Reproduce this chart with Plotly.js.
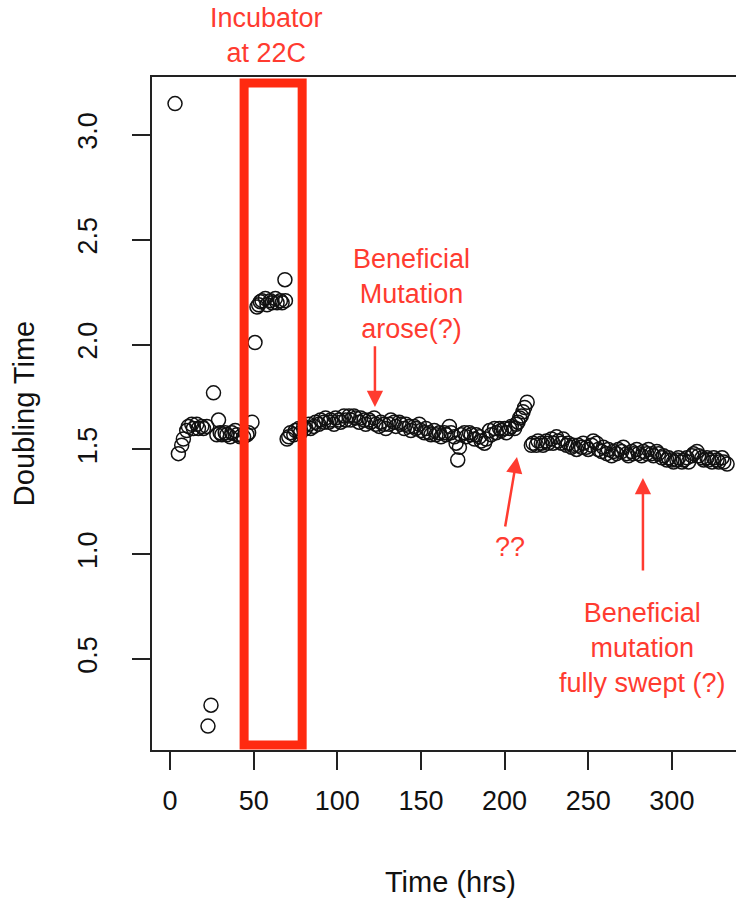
<!DOCTYPE html>
<html>
<head>
<meta charset="utf-8">
<script src="https://cdn.plot.ly/plotly-3.0.1.min.js"></script>
<style>
  html, body { margin: 0; padding: 0; overflow: hidden; background: #fff; }
  #chart { width: 760px; height: 898px; }
</style>
</head>
<body>
<div id="chart"></div>
<script>
// ---- Data ----
// Early phase (before / around the first disturbance)
const timeEarly = [3, 5, 7, 8, 10, 11, 13, 14, 16, 17, 19, 20, 22, 22.7, 24.5, 26, 28, 29, 30, 31, 33, 34, 36, 37, 39, 40, 42, 44, 46, 47, 49];
const doublingEarly = [3.15, 1.48, 1.52, 1.55, 1.59, 1.61, 1.62, 1.60, 1.62, 1.60, 1.61, 1.60, 1.61, 0.18, 0.28, 1.77, 1.57, 1.64, 1.58, 1.57, 1.58, 1.57, 1.56, 1.58, 1.59, 1.57, 1.56, 1.56, 1.57, 1.58, 1.63];

// Incubator at 22C
const timeCold = [50.8, 52, 53, 54, 55, 57, 58, 60, 61, 63, 64, 66, 67, 68.7, 69];
const doublingCold = [2.01, 2.18, 2.19, 2.205, 2.21, 2.22, 2.19, 2.21, 2.20, 2.22, 2.20, 2.21, 2.20, 2.31, 2.21];

// Recovery until the jump near 214 h
const timeMid = [70, 71, 72, 74, 75, 77, 78, 80, 81, 83, 84, 86, 87, 89, 90, 92, 93, 95, 96, 98, 99, 101, 102, 104, 105, 107, 108, 110, 111, 113, 114, 116, 117, 119, 120, 122, 123, 125, 126, 128, 129, 131, 132, 134, 135, 137, 138, 140, 141, 143, 144, 146, 147, 149, 150, 152, 153, 155, 156, 158, 159, 161, 162, 164, 165, 167, 168, 170, 171, 172, 173, 174, 176, 177, 179, 180, 182, 183, 185, 186, 188, 189, 191, 192, 194, 195, 197, 198, 200, 201, 203, 204, 206, 207, 208, 209, 210, 211, 212, 213.5];
const doublingMid = [1.55, 1.56, 1.58, 1.57, 1.59, 1.60, 1.58, 1.61, 1.60, 1.62, 1.60, 1.61, 1.63, 1.62, 1.64, 1.63, 1.65, 1.63, 1.64, 1.62, 1.65, 1.64, 1.63, 1.66, 1.64, 1.66, 1.64, 1.66, 1.65, 1.63, 1.65, 1.64, 1.62, 1.64, 1.63, 1.65, 1.62, 1.61, 1.63, 1.62, 1.60, 1.62, 1.64, 1.63, 1.61, 1.63, 1.62, 1.60, 1.62, 1.61, 1.59, 1.61, 1.60, 1.62, 1.59, 1.58, 1.60, 1.58, 1.57, 1.59, 1.57, 1.58, 1.56, 1.58, 1.57, 1.61, 1.58, 1.56, 1.53, 1.45, 1.51, 1.57, 1.58, 1.56, 1.58, 1.57, 1.55, 1.57, 1.56, 1.54, 1.53, 1.55, 1.59, 1.57, 1.60, 1.58, 1.60, 1.59, 1.60, 1.58, 1.60, 1.61, 1.60, 1.62, 1.63, 1.65, 1.66, 1.68, 1.70, 1.725];

// After the jump
const timeLate = [216, 217, 219, 220, 222, 223, 225, 226, 228, 229, 231, 232, 234, 235, 237, 238, 240, 241, 243, 244, 246, 247, 249, 250, 252, 253, 255, 256, 258, 259, 261, 262, 264, 265, 267, 268, 270, 271, 273, 274, 276, 277, 279, 280, 282, 283, 285, 286, 288, 289, 291, 292, 294, 295, 297, 298, 300, 301, 303, 304, 306, 307, 309, 310, 312, 313, 315, 316, 318, 319, 321, 322, 324, 325, 327, 328, 330, 331, 333];
const doublingLate = [1.52, 1.53, 1.52, 1.54, 1.53, 1.52, 1.54, 1.53, 1.55, 1.53, 1.56, 1.54, 1.53, 1.55, 1.52, 1.53, 1.51, 1.52, 1.50, 1.52, 1.51, 1.53, 1.51, 1.50, 1.52, 1.54, 1.53, 1.50, 1.49, 1.51, 1.48, 1.50, 1.47, 1.49, 1.48, 1.50, 1.49, 1.51, 1.48, 1.47, 1.49, 1.48, 1.50, 1.48, 1.47, 1.49, 1.48, 1.50, 1.48, 1.47, 1.49, 1.48, 1.46, 1.47, 1.45, 1.46, 1.45, 1.44, 1.45, 1.46, 1.44, 1.45, 1.46, 1.44, 1.47, 1.48, 1.49, 1.47, 1.46, 1.45, 1.46, 1.45, 1.44, 1.46, 1.45, 1.44, 1.46, 1.44, 1.43];

// Axis ticks
const xTicks = [0, 50, 100, 150, 200, 250, 300];
const xTickLabels = ['0', '50', '100', '150', '200', '250', '300'];
const yTicks = [0.5, 1.0, 1.5, 2.0, 2.5, 3.0];
const yTickLabels = ['0.5', '1.0', '1.5', '2.0', '2.5', '3.0'];

// Incubator period highlighted (hours) and its box top/bottom (doubling time units)
const incubatorHours = [44.3, 79];
const incubatorBox = [0.09, 3.248];

// Annotation texts
const noteIncubator = 'Incubator<br>at 22C';
const noteArose = 'Beneficial<br>Mutation<br>arose(?)';
const noteUnknown = '??';
const noteSwept = 'Beneficial<br>mutation<br>fully swept (?)';

// ---- Styles ----
const FONT = 'Liberation Sans, Arial, Helvetica, sans-serif';
const RED = '#ff3b30';
const RECT_RED = '#ff2a10';
const TICK_SIZE = 27;
const TITLE_SIZE = 29;
const NOTE_SIZE = 27;

const markerStyle = {
  symbol: 'circle-open',
  size: 14,
  color: '#111',
  line: { width: 1.5, color: '#111' }
};

const allTime = [].concat(timeEarly, timeCold, timeMid, timeLate);
const allDoubling = [].concat(doublingEarly, doublingCold, doublingMid, doublingLate);

const traces = [{
  type: 'scatter',
  mode: 'markers',
  x: allTime,
  y: allDoubling,
  marker: markerStyle,
  hoverinfo: 'x+y',
  showlegend: false,
  cliponaxis: false
}];

const layout = {
  width: 760,
  height: 898,
  margin: { l: 152, r: 11, t: 77, b: 148 },
  paper_bgcolor: '#ffffff',
  plot_bgcolor: '#ffffff',
  font: { family: FONT, size: TICK_SIZE, color: '#111' },
  showlegend: false,
  xaxis: {
    range: [-10.76, 346.1],
    tickmode: 'array',
    tickvals: xTicks,
    ticktext: xTickLabels,
    ticks: 'outside',
    ticklen: 18,
    tickwidth: 1.5,
    tickcolor: '#222',
    ticklabelstandoff: 8,
    showgrid: false,
    zeroline: false,
    showline: true,
    mirror: true,
    linecolor: '#222',
    linewidth: 1.5,
    tickfont: { family: FONT, size: TICK_SIZE, color: '#111' },
    title: { text: 'Time (hrs)', font: { family: FONT, size: TITLE_SIZE, color: '#111' }, standoff: 58 }
  },
  yaxis: {
    range: [0.066, 3.277],
    tickmode: 'array',
    tickvals: yTicks,
    ticktext: yTickLabels,
    tickangle: -90,
    ticks: 'outside',
    ticklen: 18,
    tickwidth: 1.5,
    tickcolor: '#222',
    ticklabelstandoff: 24,
    showgrid: false,
    zeroline: false,
    showline: true,
    mirror: true,
    linecolor: '#222',
    linewidth: 1.5,
    tickfont: { family: FONT, size: TICK_SIZE, color: '#111' },
    title: { text: 'Doubling Time', font: { family: FONT, size: TITLE_SIZE, color: '#111' }, standoff: 30 }
  },
  shapes: [{
    type: 'rect',
    xref: 'x', yref: 'y',
    x0: incubatorHours[0], x1: incubatorHours[1],
    y0: incubatorBox[0], y1: incubatorBox[1],
    line: { color: RECT_RED, width: 9 },
    fillcolor: 'rgba(0,0,0,0)',
    layer: 'above'
  }],
  annotations: [
    { xref: 'x', yref: 'paper', x: 57.4, y: 1.061, text: noteIncubator, showarrow: false,
      xanchor: 'center', yanchor: 'middle', font: { family: FONT, size: NOTE_SIZE, color: RED } },
    { xref: 'x', yref: 'y', x: 144.6, y: 2.241, text: noteArose, showarrow: false,
      xanchor: 'center', yanchor: 'middle', font: { family: FONT, size: NOTE_SIZE, color: RED } },
    { xref: 'x', yref: 'y', x: 203.2, y: 1.034, text: noteUnknown, showarrow: false,
      xanchor: 'center', yanchor: 'middle', font: { family: FONT, size: NOTE_SIZE, color: RED } },
    { xref: 'x', yref: 'y', x: 282.7, y: 0.553, text: noteSwept, showarrow: false,
      xanchor: 'center', yanchor: 'middle', font: { family: FONT, size: NOTE_SIZE, color: RED } },
    // arrows
    { xref: 'x', yref: 'y', axref: 'x', ayref: 'y', x: 122.5, y: 1.703, ax: 122.5, ay: 2.0,
      text: '', showarrow: true, arrowhead: 2, arrowsize: 1.3, arrowwidth: 2.5, arrowcolor: RED, standoff: 0 },
    { xref: 'x', yref: 'y', axref: 'x', ayref: 'y', x: 207.4, y: 1.464, ax: 200.2, ay: 1.125,
      text: '', showarrow: true, arrowhead: 2, arrowsize: 1.3, arrowwidth: 2.5, arrowcolor: RED, standoff: 0 },
    { xref: 'x', yref: 'y', axref: 'x', ayref: 'y', x: 282.7, y: 1.364, ax: 282.7, ay: 0.915,
      text: '', showarrow: true, arrowhead: 2, arrowsize: 1.3, arrowwidth: 2.5, arrowcolor: RED, standoff: 0 }
  ]
};

Plotly.newPlot('chart', traces, layout, { displayModeBar: false, responsive: false, staticPlot: false });
</script>
</body>
</html>
